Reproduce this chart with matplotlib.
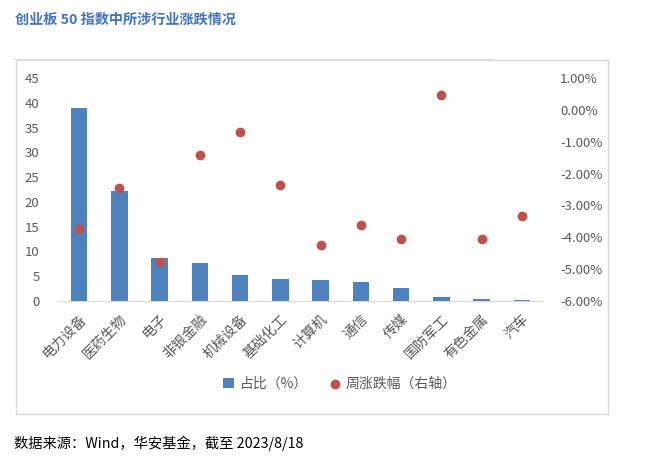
import numpy as np
import matplotlib.pyplot as plt
from matplotlib.patches import Rectangle
from matplotlib.lines import Line2D
import matplotlib.ticker as mticker

plt.rcParams['font.family'] = ['Noto Sans CJK SC', 'DejaVu Sans']

industries = ["电力设备", "医药生物", "电子", "非银金融", "机械设备", "基础化工",
              "计算机", "通信", "传媒", "国防军工", "有色金属", "汽车"]
weight = [38.9, 22.1, 8.6, 7.6, 5.1, 4.3, 4.1, 3.7, 2.5, 0.7, 0.3, 0.2]
weekly_chg = [-3.75, -2.44, -4.77, -1.41, -0.69, -2.37, -4.25, -3.62, -4.05, 0.49, -4.05, -3.34]

BLUE = "#4F81BD"
RED = "#C0504D"
GREY = "#595959"

fig = plt.figure(figsize=(6.45, 4.70), dpi=100)
W, H = 645, 470

# frame and title
fig.add_artist(Rectangle((16 / W, 1 - 414 / H), (608 - 16) / W, (414 - 60) / H,
                         transform=fig.transFigure, fill=False,
                         edgecolor="#D9D9D9", linewidth=1))
fig.add_artist(Line2D([13 / W, 493 / W], [1 - 59 / H, 1 - 59 / H],
                      transform=fig.transFigure, color="#E3E3E3", linewidth=1))
fig.text(15 / W, 1 - 20 / H, "创业板 50 指数中所涉行业涨跌情况", color="#4472C4",
         fontsize=10.2, fontweight="bold", va="center", ha="left")
fig.text(14 / W, 1 - 443 / H, "数据来源：Wind，华安基金，截至 2023/8/18",
         color="black", fontsize=10.3, va="center", ha="left")

ax = fig.add_axes([59 / W, 1 - 300.7 / H, (542 - 59) / W, (300.7 - 78.3) / H])
x = np.arange(len(industries))
ax.bar(x, weight, width=0.41, color=BLUE, label="占比（%）", zorder=2)
ax.set_xlim(-0.5, len(industries) - 0.5)
ax.set_ylim(0, 45)
ax.set_yticks(range(0, 46, 5))
ax.tick_params(axis="y", length=0, labelsize=9.5, labelcolor=GREY, pad=14)
ax.set_xticks(x)
ax.set_xticklabels(industries, rotation=45, ha="right", rotation_mode="anchor",
                   fontsize=10, color=GREY)
ax.tick_params(axis="x", length=0, pad=8)
for s in ["top", "right", "left"]:
    ax.spines[s].set_visible(False)
ax.spines["bottom"].set_color("#D9D9D9")

ax2 = ax.twinx()
ax2.scatter(x, np.array(weekly_chg) / 100, s=36, color=RED, zorder=3,
            label="周涨跌幅（右轴）")
ax2.set_ylim(-0.06, 0.01)
ax2.set_yticks(np.arange(-0.06, 0.0101, 0.01))
ax2.yaxis.set_major_formatter(mticker.FuncFormatter(lambda v, p: f"{v * 100:.2f}%"))
ax2.tick_params(axis="y", length=0, labelsize=9.5, labelcolor=GREY, pad=13)
for s in ["top", "right", "left", "bottom"]:
    ax2.spines[s].set_visible(False)

h1, l1 = ax.get_legend_handles_labels()
h2, l2 = ax2.get_legend_handles_labels()
fig.legend(h1 + h2, l1 + l2, loc="center", bbox_to_anchor=(340 / W, 1 - 384 / H),
           ncol=2, frameon=False, fontsize=10, handlelength=0.8, handletextpad=0.4,
           columnspacing=1.5, labelcolor=GREY)

fig.savefig("out.png", dpi=100)
